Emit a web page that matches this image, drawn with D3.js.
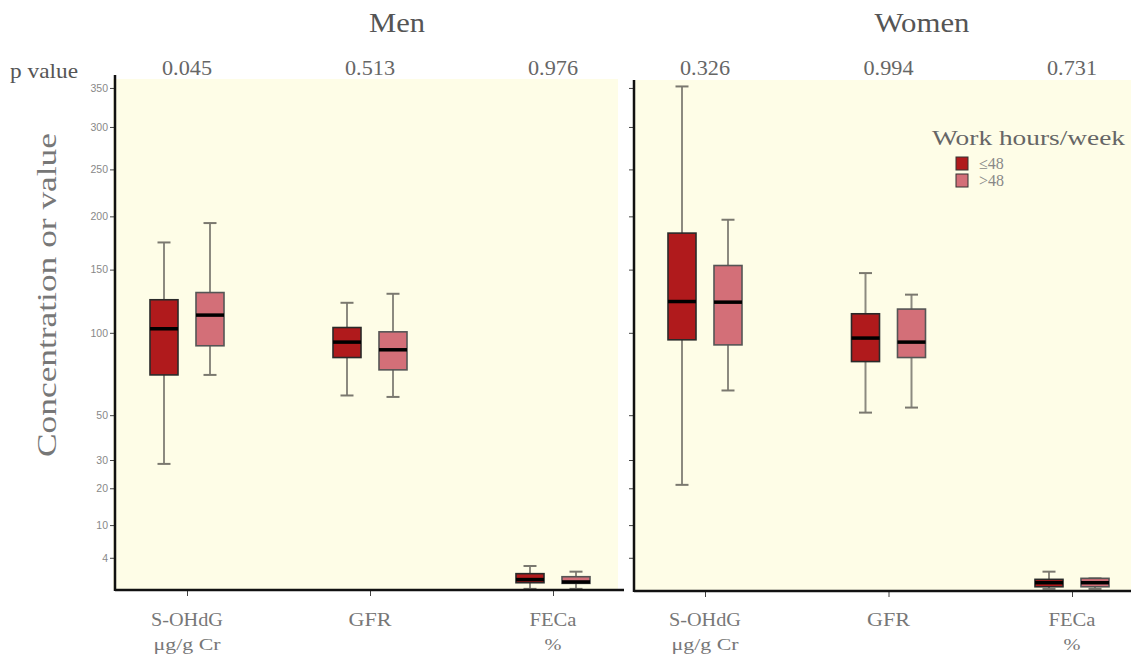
<!DOCTYPE html>
<html><head><meta charset="utf-8">
<script src="https://cdn.jsdelivr.net/npm/d3@7"></script>
<style>body{margin:0;background:#fff}svg{display:block}</style>
</head><body>
<svg id="c" width="1131" height="658"></svg>
<script>
// ---- data ----
const panels = ["Men", "Women"];
const categories = ["S-OHdG", "GFR", "FECa"];
const catUnits = ["μg/g  Cr", "", "%"];
const groups = ["≤48", ">48"];
const yTicks = [4, 10, 20, 30, 50, 100, 150, 200, 250, 300, 350];
const pValuesMen = ["0.045", "0.513", "0.976"];
const pValuesWomen = ["0.326", "0.994", "0.731"];
// stats: [whiskerLow, q1, median, q3, whiskerHigh]
const menLe48 = [[28.5, 72.3, 102.9, 124.9, 174.6], [60.4, 83.2, 93.5, 103.8, 122.5], [0.8, 1.24, 1.5, 2.06, 2.92]];
const menGt48 = [[72.3, 91, 113, 130.7, 193.3], [59.6, 75.4, 88.3, 100.7, 129.7], [0.8, 1.19, 1.3, 1.76, 2.27]];
const womenLe48 = [[21.1, 95.1, 123.5, 183.5, 352], [51.3, 80.6, 96.3, 114, 147], [0.8, 0.94, 1.24, 1.52, 2.27]];
const womenGt48 = [[63.2, 91.6, 123, 153.6, 196.6], [53.9, 83.2, 93.5, 117.6, 129], [0.8, 0.94, 1.24, 1.61, 1.61]];

const seriesByPanel = { Men: [menLe48, menGt48], Women: [womenLe48, womenGt48] };
const pByPanel = { Men: pValuesMen, Women: pValuesWomen };

const colors = { "≤48": "#b01a1c", ">48": "#d36f78" };
const serif = "'Liberation Serif', 'DejaVu Serif', serif";
const sans = "'Liberation Sans', Arial, sans-serif";

const svg = d3.select("#c");

function txt(x, yy, s, size, fill, len, anchor) {
  const t = svg.append("text").attr("x", x).attr("y", yy).attr("text-anchor", anchor || "middle")
    .attr("font-family", serif).attr("font-size", size).attr("fill", fill).text(s);
  if (len) t.attr("textLength", len).attr("lengthAdjust", "spacingAndGlyphs");
  return t;
}

const y = d3.scaleSqrt().domain([0.73, 362]).range([590, 79]);

const layout = {
  Men: { left: 113, right: 618, axisX: 115, bottom: 590, top: 79, axisTop: 75, axisRight: 624, cats: [187, 553], title: 397, tlen: 56 },
  Women: { left: 634, right: 1131, axisX: 634, bottom: 591, top: 80, axisTop: 80, axisRight: 1131, cats: [705, 1072], title: 922, tlen: 95 }
};
const catLens = [72, 43, 47];
const unitLens = [67, 0, 17];

panels.forEach((p, pi) => {
  const L = layout[p];
  const g = svg.append("g");
  const x = d3.scalePoint().domain(categories).range(L.cats);
  const xo = d3.scaleBand().domain(groups).range([-46, 46]);
  const bw = 28;

  g.append("rect").attr("x", L.left).attr("y", L.top).attr("width", L.right - L.left).attr("height", L.bottom - L.top).attr("fill", "#fefde7");

  txt(L.title, 32, p, 28, "#555", L.tlen);

  categories.forEach((c, i) => {
    txt(x(c), 75, pByPanel[p][i], 22, "#666", 50);
  });

  groups.forEach((gr, gi) => {
    const data = seriesByPanel[p][gi];
    categories.forEach((c, ci) => {
      const s = data[ci];
      const cx = x(c) + xo(gr) + xo.bandwidth() / 2;
      const yLow = Math.min(y(s[0]), L.bottom - 1);
      g.append("line").attr("x1", cx).attr("x2", cx).attr("y1", y(s[4])).attr("y2", yLow)
        .attr("stroke", "#8c8a80").attr("stroke-width", 2);
      [s[4], s[0]].forEach(v => {
        const yy = Math.min(y(v), L.bottom - 1);
        g.append("line").attr("x1", cx - 6.5).attr("x2", cx + 6.5).attr("y1", yy).attr("y2", yy)
          .attr("stroke", "#7a786f").attr("stroke-width", 2);
      });
      g.append("rect").attr("x", cx - bw / 2).attr("y", y(s[3])).attr("width", bw).attr("height", y(s[1]) - y(s[3]))
        .attr("fill", colors[gr]).attr("stroke", gi === 0 ? "#2a2a2a" : "#555").attr("stroke-width", 1.6);
      g.append("line").attr("x1", cx - bw / 2).attr("x2", cx + bw / 2).attr("y1", y(s[2])).attr("y2", y(s[2]))
        .attr("stroke", "#000").attr("stroke-width", 3.5);
    });
  });

  const yAxis = d3.axisLeft(y).tickValues(yTicks).tickSize(5).tickFormat(pi === 0 ? d3.format("d") : "");
  const ya = svg.append("g").attr("transform", `translate(${L.axisX},0)`).call(yAxis);
  ya.select(".domain").remove();
  ya.selectAll(".tick line").attr("stroke", "#444").attr("stroke-width", 1);
  ya.selectAll(".tick text").attr("font-family", sans).attr("font-size", 10.5).attr("fill", "#888").attr("x", -7);
  svg.append("line").attr("x1", L.axisX).attr("x2", L.axisX).attr("y1", L.axisTop).attr("y2", L.bottom + 1)
    .attr("stroke", "#111").attr("stroke-width", 2.5);

  const xa = svg.append("g").attr("transform", `translate(0,${L.bottom})`).call(d3.axisBottom(x).tickSize(6).tickFormat(""));
  xa.select(".domain").remove();
  xa.selectAll(".tick line").attr("stroke", "#444");
  svg.append("line").attr("x1", L.axisX).attr("x2", L.axisRight).attr("y1", L.bottom).attr("y2", L.bottom)
    .attr("stroke", "#111").attr("stroke-width", 2.5);

  categories.forEach((c, i) => {
    txt(x(c), 626, c, 18, "#777", catLens[i]);
    if (catUnits[i]) txt(x(c), 650, catUnits[i], 17, "#777", unitLens[i]);
  });
});

txt(10, 78, "p value", 22, "#555", 68, "start");

svg.append("text").attr("transform", "translate(56,295) rotate(-90)").attr("text-anchor", "middle")
  .attr("font-family", serif).attr("font-size", 27).attr("fill", "#777")
  .attr("textLength", 324).attr("lengthAdjust", "spacingAndGlyphs").text("Concentration or value");

txt(932, 145, "Work hours/week", 22, "#666", 193, "start");
groups.forEach((gr, i) => {
  svg.append("rect").attr("x", 956).attr("y", 157 + i * 17).attr("width", 12).attr("height", 13)
    .attr("fill", colors[gr]).attr("stroke", "#333").attr("stroke-width", 1);
  txt(979, 169 + i * 17, gr, 16, "#888", 0, "start");
});
</script>
</body></html>
